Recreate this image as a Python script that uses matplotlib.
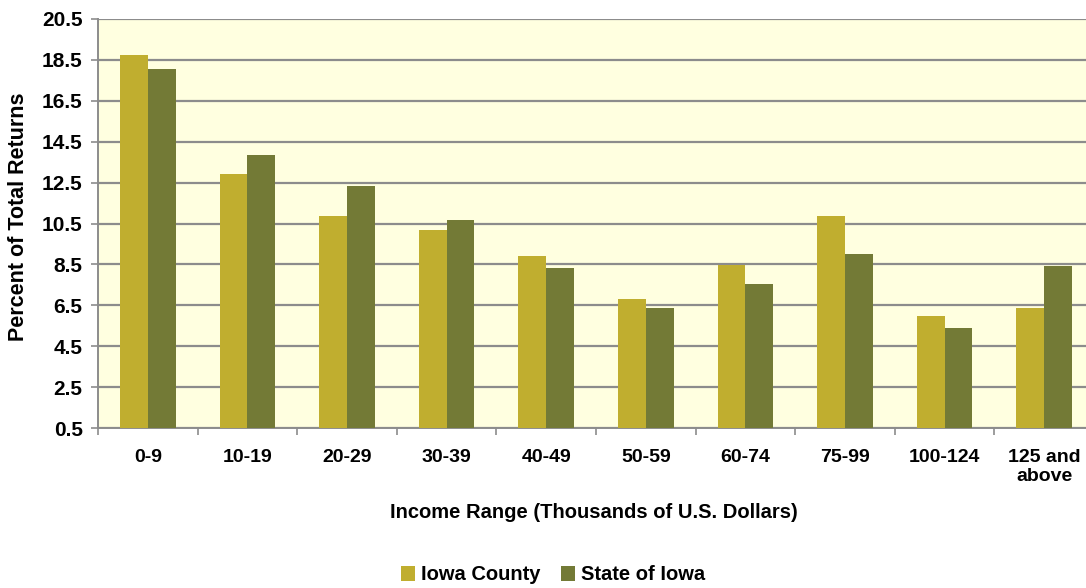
import matplotlib
matplotlib.use('Agg')
import matplotlib.pyplot as plt
import numpy as np

# data
categories = ['0-9', '10-19', '20-29', '30-39', '40-49', '50-59',
              '60-74', '75-99', '100-124', '125 and\nabove']
iowa_county = [18.74, 12.92, 10.87, 10.18, 8.91, 6.81, 8.47, 10.87, 5.98, 6.38]
state_of_iowa = [18.06, 13.85, 12.33, 10.67, 8.32, 6.37, 7.54, 9.01, 5.39, 8.42]
y_ticks = [0.5, 2.5, 4.5, 6.5, 8.5, 10.5, 12.5, 14.5, 16.5, 18.5, 20.5]

plt.rcParams['font.family'] = ['Liberation Sans', 'DejaVu Sans']
plt.rcParams['font.weight'] = 'bold'

fig = plt.figure(figsize=(10.86, 5.88), dpi=100)
W, H = 1086, 588
# axes extends past the right edge, like the original screenshot
ax = fig.add_axes([98 / W, 1 - 428 / H, 996 / W, 409 / H])
ax.set_facecolor('#FFFFE0')

x = np.arange(len(categories))
bw = 0.28
ax.bar(x - bw / 2, [v - 0.5 for v in iowa_county], bw, bottom=0.5,
       color='#C0AE2F', label='Iowa County', zorder=3)
ax.bar(x + bw / 2, [v - 0.5 for v in state_of_iowa], bw, bottom=0.5,
       color='#737A36', label='State of Iowa', zorder=3)

ax.set_ylim(0.5, 20.5)
ax.set_xlim(-0.5, len(categories) - 0.5)
ax.set_yticks(y_ticks)
ax.set_yticklabels([f'{t:.1f}' for t in y_ticks], fontsize=15, fontweight='bold')
ax.yaxis.grid(True, color='#8C8C8C', linewidth=1.6, zorder=1)
ax.set_axisbelow(True)

ax.set_xticks(x)
ax.set_xticklabels(categories, fontsize=14, fontweight='bold', va='top',
                   linespacing=1.2)
ax.tick_params(axis='x', which='major', length=0, pad=15)
ax.set_xticks(np.arange(-0.5, len(categories), 1), minor=True)
ax.tick_params(axis='x', which='minor', length=5, color='#8C8C8C', width=1.2)
ax.tick_params(axis='y', length=5, color='#8C8C8C', width=1.2, pad=6)

for side in ['top', 'right']:
    ax.spines[side].set_visible(False)
for side in ['left', 'bottom']:
    ax.spines[side].set_color('#8C8C8C')
    ax.spines[side].set_linewidth(1.4)

fig.text(19 / W, 1 - 217 / H, 'Percent of Total Returns', rotation=90,
         ha='center', va='center', fontsize=15.5, fontweight='bold')
fig.text(594 / W, 1 - 512 / H, 'Income Range (Thousands of U.S. Dollars)',
         ha='center', va='center', fontsize=14.5, fontweight='bold')

fig.legend(loc='center', bbox_to_anchor=(553 / W, 1 - 575 / H), ncol=2,
           frameon=False, fontsize=14.5, handlelength=0.7, handleheight=0.7,
           handletextpad=0.3, columnspacing=1.0)

fig.savefig('out.png', dpi=100)
plt.close(fig)
